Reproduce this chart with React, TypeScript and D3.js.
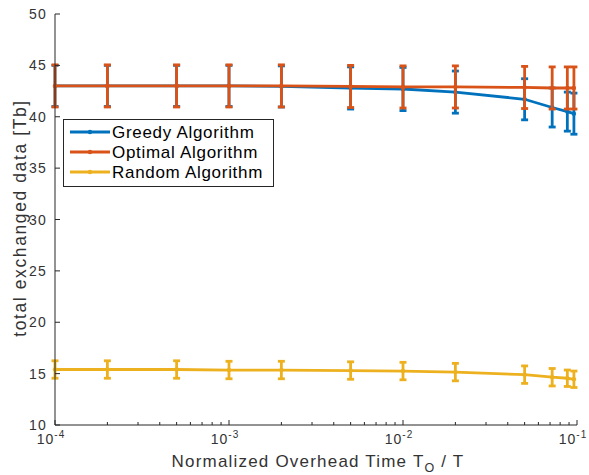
import React, { useEffect, useRef } from 'react';
import * as d3 from 'd3';

// overhead ratio T_O / T
const xValues = [1e-4, 2e-4, 5e-4, 1e-3, 2e-3, 5e-3, 1e-2, 2e-2, 5e-2, 0.072, 0.088, 0.096];

const greedyMean = [43.0, 43.0, 43.0, 43.0, 42.95, 42.8, 42.7, 42.4, 41.7, 40.9, 40.5, 40.3];
const greedyErr = [2.0, 2.0, 2.0, 2.0, 2.0, 2.05, 2.1, 2.05, 2.0, 1.9, 1.9, 2.0];

const optimalMean = [43.0, 43.0, 43.0, 43.0, 43.0, 42.95, 42.9, 42.9, 42.85, 42.8, 42.8, 42.8];
const optimalErr = [2.05, 2.05, 2.05, 2.05, 2.05, 2.05, 2.05, 2.05, 2.05, 2.05, 2.05, 2.05];

const randomMean = [15.4, 15.4, 15.4, 15.35, 15.35, 15.3, 15.25, 15.15, 14.9, 14.65, 14.55, 14.45];
const randomErr = [0.85, 0.85, 0.85, 0.85, 0.85, 0.85, 0.85, 0.85, 0.85, 0.85, 0.8, 0.8];

const seriesNames = ['Greedy Algorithm', 'Optimal Algorithm', 'Random Algorithm'];
const seriesColors = ['#0072BD', '#D95319', '#EDB120'];

const yTicks = [10, 15, 20, 25, 30, 35, 40, 45, 50];
const xMajorTicks = [1e-4, 1e-3, 1e-2, 1e-1];
const xTickExponents = ['-4', '-3', '-2', '-1'];

const App = () => {
  const ref = useRef<SVGSVGElement>(null);

  useEffect(() => {
    if (!ref.current) return;
    const svg = d3.select(ref.current);
    svg.selectAll('*').remove();

    const font = 'Liberation Sans, Arial, Helvetica, sans-serif';
    const axisColor = '#262626';
    const textColor = '#333';

    const x = d3.scaleLog().domain([1e-4, 1e-1]).range([55, 577]);
    const y = d3.scaleLinear().domain([10, 50]).range([425, 14]);

    const series = [
      { mean: greedyMean, err: greedyErr },
      { mean: optimalMean, err: optimalErr },
      { mean: randomMean, err: randomErr },
    ];

    const line = d3.line<number>()
      .x((_, i) => x(xValues[i]))
      .y(d => y(d));

    series.forEach((s, k) => {
      const g = svg.append('g');
      const color = seriesColors[k];
      g.append('path')
        .datum(s.mean)
        .attr('fill', 'none')
        .attr('stroke', color)
        .attr('stroke-width', 2.8)
        .attr('d', line);

      s.mean.forEach((m, i) => {
        const cx = x(xValues[i]);
        const top = y(m + s.err[i]);
        const bot = y(m - s.err[i]);
        g.append('line')
          .attr('x1', cx).attr('x2', cx)
          .attr('y1', top).attr('y2', bot)
          .attr('stroke', color).attr('stroke-width', 2.8);
        [top, bot].forEach(v => {
          g.append('line')
            .attr('x1', cx - 3.5).attr('x2', cx + 3.5)
            .attr('y1', v).attr('y2', v)
            .attr('stroke', color).attr('stroke-width', 2.8);
        });
        g.append('circle')
          .attr('cx', cx).attr('cy', y(m)).attr('r', 2.2)
          .attr('fill', color);
      });
    });

    // axes (left + bottom only, ticks pointing inward)
    const axes = svg.append('g').attr('stroke', axisColor).attr('stroke-width', 1);
    axes.append('line')
      .attr('x1', x(1e-4)).attr('x2', x(1e-4))
      .attr('y1', y(50)).attr('y2', y(10));
    axes.append('line')
      .attr('x1', x(1e-4)).attr('x2', x(1e-1))
      .attr('y1', y(10)).attr('y2', y(10));

    yTicks.forEach(t => {
      axes.append('line')
        .attr('x1', x(1e-4)).attr('x2', x(1e-4) + 5)
        .attr('y1', y(t)).attr('y2', y(t));
      svg.append('text')
        .attr('x', 47).attr('y', y(t) + 5)
        .attr('text-anchor', 'end')
        .attr('font-family', font).attr('font-size', 14)
        .attr('letter-spacing', 1.2)
        .attr('fill', textColor)
        .text(t);
    });

    const minor: number[] = [];
    for (let e = -4; e < -1; e++) {
      for (let m = 2; m <= 9; m++) minor.push(m * Math.pow(10, e));
    }
    minor.forEach(t => {
      axes.append('line')
        .attr('x1', x(t)).attr('x2', x(t))
        .attr('y1', y(10)).attr('y2', y(10) - 3);
    });
    xMajorTicks.forEach((t, i) => {
      axes.append('line')
        .attr('x1', x(t)).attr('x2', x(t))
        .attr('y1', y(10)).attr('y2', y(10) - 5);
      const label = svg.append('text')
        .attr('x', x(t) - 4).attr('y', 444)
        .attr('text-anchor', 'middle')
        .attr('font-family', font).attr('font-size', 14)
        .attr('letter-spacing', 1)
        .attr('fill', textColor);
      label.append('tspan').text('10');
      label.append('tspan')
        .attr('font-size', 10).attr('dy', -6)
        .text(xTickExponents[i]);
    });

    // axis labels
    const xl = svg.append('text')
      .attr('x', 318).attr('y', 467)
      .attr('text-anchor', 'middle')
      .attr('font-family', font).attr('font-size', 17)
      .attr('letter-spacing', 1.2)
      .attr('fill', textColor);
    xl.append('tspan').text('Normalized Overhead Time T');
    xl.append('tspan').attr('font-size', 12.5).attr('dy', 5).text('O');
    xl.append('tspan').attr('dy', -5).text(' / T');

    svg.append('text')
      .attr('transform', 'translate(26,218) rotate(-90)')
      .attr('text-anchor', 'middle')
      .attr('font-family', font).attr('font-size', 17.5)
      .attr('letter-spacing', 1.6)
      .attr('fill', textColor)
      .text('total exchanged data [Tb]');

    // legend
    const lg = svg.append('g');
    lg.append('rect')
      .attr('x', 63.5).attr('y', 119.5).attr('width', 210).attr('height', 67)
      .attr('fill', 'white').attr('stroke', axisColor).attr('stroke-width', 1);
    seriesNames.forEach((name, k) => {
      const ry = 132 + k * 20;
      lg.append('line')
        .attr('x1', 70).attr('x2', 110)
        .attr('y1', ry).attr('y2', ry)
        .attr('stroke', seriesColors[k]).attr('stroke-width', 2.8);
      lg.append('circle')
        .attr('cx', 90).attr('cy', ry).attr('r', 2.2)
        .attr('fill', seriesColors[k]);
      lg.append('text')
        .attr('x', 112).attr('y', ry + 6)
        .attr('font-family', font).attr('font-size', 17)
        .attr('letter-spacing', 0.7)
        .attr('fill', '#000')
        .text(name);
    });
  }, []);

  return (
    <svg
      ref={ref}
      width={589}
      height={475}
      style={{ position: 'absolute', left: 0, top: 0, background: 'white' }}
    />
  );
};

export default App;
